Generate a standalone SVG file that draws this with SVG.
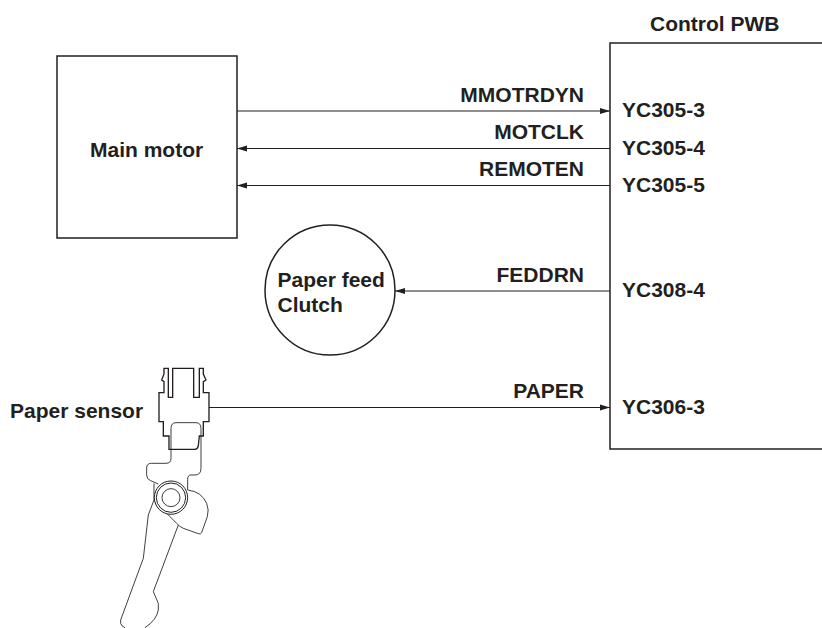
<svg xmlns="http://www.w3.org/2000/svg" width="822" height="628" viewBox="0 0 822 628">
<defs>
<marker id="ah" markerUnits="userSpaceOnUse" markerWidth="11" markerHeight="8" refX="10" refY="4" orient="auto-start-reverse"><path d="M0 1 L10 4 L0 7 Z" fill="#231f20"/></marker>
<style>
text{font-family:"Liberation Sans",Arial,sans-serif;font-weight:bold;font-size:21px;fill:#231f20}
.box{fill:#fff;stroke:#231f20;stroke-width:1.5}
.wire{fill:none;stroke:#231f20;stroke-width:1.1}
.e{text-anchor:end}
.thick{fill:none;stroke:#231f20;stroke-width:4;stroke-linejoin:miter}
.thin{fill:none;stroke:#231f20;stroke-width:2.6}
</style>
</defs>
<rect width="822" height="628" fill="#fff"/>
<g id="connectors">
<path class="wire" d="M237 111H610" marker-end="url(#ah)"/>
<path class="wire" d="M610 148.500H237" marker-end="url(#ah)"/>
<path class="wire" d="M610 185.500H237" marker-end="url(#ah)"/>
<path class="wire" d="M610 291H395" marker-end="url(#ah)"/>
<path class="wire" d="M209 407.500H610" marker-end="url(#ah)"/>
</g>
<g id="labels">
<text class="e" x="584" y="102">MMOTRDYN</text>
<text class="e" x="584" y="139">MOTCLK</text>
<text class="e" x="584" y="176">REMOTEN</text>
<text class="e" x="584" y="282">FEDDRN</text>
<text class="e" x="584" y="398">PAPER</text>
</g>
<g id="control-pwb">
<path class="box" fill="none" d="M822 43H610V449H822"/>
<text x="650" y="30.500">Control PWB</text>
<text x="622" y="116.500">YC305-3</text>
<text x="622" y="154.500">YC305-4</text>
<text x="622" y="191.500">YC305-5</text>
<text x="622" y="297">YC308-4</text>
<text x="622" y="414">YC306-3</text>
</g>
<g id="main-motor">
<rect class="box" x="57" y="56" width="180" height="182"/>
<text x="90" y="157">Main motor</text>
</g>
<g id="paper-feed-clutch">
<circle class="box" cx="330" cy="290" r="65"/>
<text x="277.500" y="287">Paper feed</text>
<text x="277.500" y="312">Clutch</text>
</g>
<g id="paper-sensor">
<text x="10" y="418">Paper sensor</text>
<g transform="translate(90 350) scale(.3333)">
<path class="thick" d="M207 128H222V95L215 90L222 72V55H235V142H248V55H311V142H328V55H340V72L348 90L340 95V128H357V215H340V258H328L325 288Q323 298 314 298H237V258H220V215H207Z"/>
<path class="thin" d="M243 325V236Q243 218 258 218H318Q333 218 333 236V355Q333 375 315 375H303Q293 375 293 388V420"/>
<path class="thin" d="M243 325Q243 340 228 340H184Q170 340 170 354V375Q170 388 182 392L205 402"/>
<path class="thin" d="M192 400V450L175 495L160 625L92 810V820Q95 830 105 833"/>
<path class="thin" d="M265 525L190 725L205 760V780Q200 810 165 833"/>
<path class="thin" d="M293 420Q335 425 350 460Q358 480 352 500L335 548Q332 554 325 551L280 535Q268 530 260 520L230 490"/>
<circle cx="243" cy="443" r="50" fill="#fff" stroke="#231f20" stroke-width="3"/>
<circle cx="243" cy="443" r="44" fill="none" stroke="#231f20" stroke-width="3"/>
<circle cx="243" cy="443" r="27" fill="none" stroke="#231f20" stroke-width="2.600"/>
</g>
</g>
</svg>
